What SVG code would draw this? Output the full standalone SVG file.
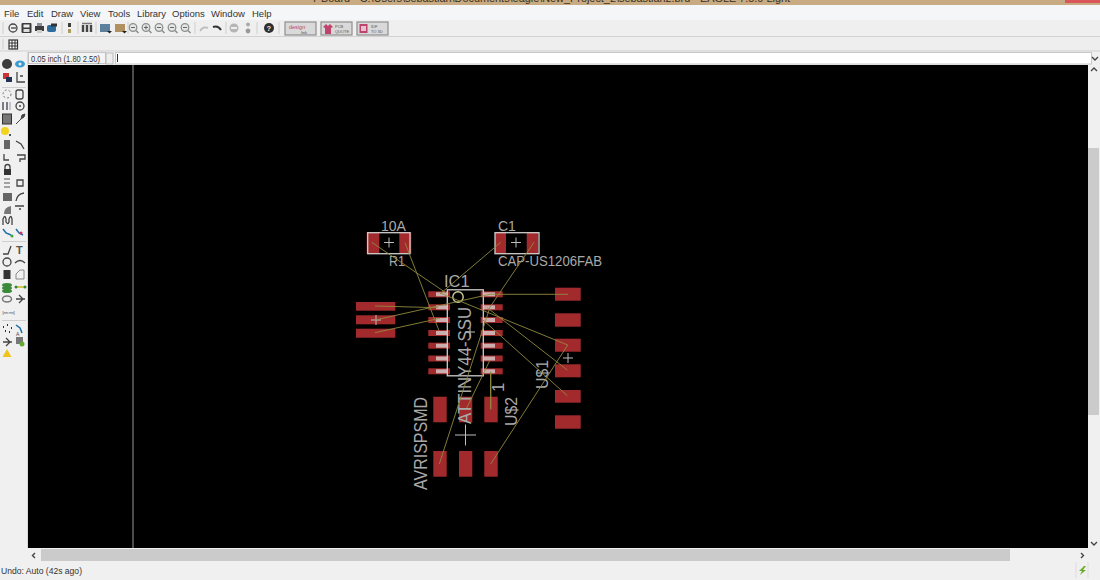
<svg xmlns="http://www.w3.org/2000/svg" width="1100" height="580" viewBox="0 0 1100 580">
<style>
text{font-family:"Liberation Sans",Arial,sans-serif}
.menu{font-size:9.5px;fill:#333}
.ui{font-size:9px;fill:#333}
.sep{stroke:#cfcfcf;stroke-width:1}
.ic{fill:#3c3c3c}
.icl{fill:#8a9099}
.icn{fill:none;stroke:#444;stroke-width:1.3}
.mag{fill:#e4e6e6;stroke:#8b908f;stroke-width:1.3}
.hdl{stroke:#8b908f;stroke-width:1.6}
.btn{fill:#d9d9d9;stroke:#8e8e8e;stroke-width:1.2}
.pink{fill:#c0436e}
.btt{font-size:4px;fill:#555}
.pad{fill:#a32a2c}
.lead{fill:#cdaeae}
.out{fill:none;stroke:#cfcccc;stroke-width:1.3}
.lbl{font-size:14px;fill:#a9a9a9}
.cross{stroke:#bdbdbd;stroke-width:1;fill:none}
.wire{stroke:#8f8a3e;stroke-width:.9;fill:none}
.arr{fill:none;stroke:#444;stroke-width:1.4}
</style>
<rect width="1100" height="580" fill="#f0f0f0"/>
<g id="titlebar">
<rect width="1100" height="5" fill="#c8ab82"/>
<rect x="1065" width="35" height="3" fill="#d9575a"/>
<text x="312" y="2" font-size="11" fill="#3a3020" textLength="478" lengthAdjust="spacingAndGlyphs">7 Board - C:\Users\sebastian\Documents\eagle\New_Project_2\sebastian2.brd - EAGLE 7.5.0 Light</text>
</g>
<g id="menubar">
<rect y="5" width="1100" height="15" fill="#f5f6f7"/>
<text class="menu" x="4" y="17">File</text><text class="menu" x="27" y="17">Edit</text><text class="menu" x="51" y="17">Draw</text><text class="menu" x="80" y="17">View</text><text class="menu" x="108" y="17">Tools</text><text class="menu" x="137" y="17">Library</text><text class="menu" x="172" y="17">Options</text><text class="menu" x="211" y="17">Window</text><text class="menu" x="252" y="17">Help</text>
</g>
<g id="toolbar">
<rect y="20" width="1100" height="17" fill="#efefef"/>
<line x1="0" y1="36.5" x2="1100" y2="36.5" stroke="#d2d2d2"/>
<circle cx="13" cy="28" r="4" class="icn"/><path d="M11 28h5" stroke="#444" stroke-width="1.300"/>
<rect x="21.500" y="23" width="10" height="10" class="ic" rx="1"/><rect x="23.500" y="24.500" width="6" height="3" fill="#eee"/><rect x="23.500" y="29" width="6" height="3" fill="#ddd"/>
<rect x="35" y="26" width="9" height="5" class="ic"/><rect x="37" y="23" width="5" height="3" class="icl"/><rect x="37" y="30" width="5" height="3" fill="#ccc"/>
<rect x="47" y="25" width="9" height="7" rx="2" fill="#2c6c9c"/><rect x="51" y="23.500" width="6" height="3" fill="#333"/>
<rect x="68" y="23" width="3" height="4" class="ic"/><rect x="68" y="29" width="3" height="4" fill="#a89a60"/>
<path d="M83 25v7M87 25v7M91 25v7" stroke="#444" stroke-width="2.400"/><path d="M82 23.500h10" stroke="#777" stroke-width="1.500"/>
<rect x="100" y="24" width="10" height="8" fill="#5d7f9e"/><path d="M107 31h5l-2.500 2.500z" fill="#222"/>
<rect x="115" y="24" width="10" height="8" fill="#b09060"/><path d="M122 31h5l-2.500 2.500z" fill="#222"/>
<circle cx="133" cy="27.500" r="3.800" class="mag"/><circle cx="146" cy="27.500" r="3.800" class="mag"/><circle cx="159" cy="27.500" r="3.800" class="mag"/><circle cx="172" cy="27.500" r="3.800" class="mag"/><circle cx="185" cy="27.500" r="3.800" class="mag"/>
<path class="hdl" d="M136 30.500l2.500 2.500M149 30.500l2.500 2.500M162 30.500l2.500 2.500M175 30.500l2.500 2.500M188 30.500l2.500 2.500"/>
<path d="M131 27.500h4M144 27.500h4M146 25.500v4M157 27.500h4M170 27.500h4M183 27.500h4" stroke="#666"/>
<path d="M200 31q3-5 8-3" fill="none" stroke="#bbb" stroke-width="1.600"/><path d="M213 27q5-2 8 3" fill="none" stroke="#333" stroke-width="2"/>
<circle cx="234" cy="28" r="4.500" fill="#b5b5b5"/><rect x="231" y="27" width="6" height="2" fill="#eee"/><circle cx="248" cy="24.500" r="2" fill="#aaa"/><circle cx="248" cy="31" r="2.400" fill="#999"/>
<circle cx="269" cy="28" r="5" fill="#2f2f2f"/><text x="266.600" y="31" font-size="7.500" font-weight="bold" fill="#eee">?</text>
<line class="sep" x1="3" y1="22" x2="3" y2="34"/><line class="sep" x1="62" y1="22" x2="62" y2="34"/><line class="sep" x1="78" y1="22" x2="78" y2="34"/><line class="sep" x1="96" y1="22" x2="96" y2="34"/><line class="sep" x1="128" y1="22" x2="128" y2="34"/><line class="sep" x1="195" y1="22" x2="195" y2="34"/><line class="sep" x1="226" y1="22" x2="226" y2="34"/><line class="sep" x1="257" y1="22" x2="257" y2="34"/><line class="sep" x1="279" y1="22" x2="279" y2="34"/>
<rect class="btn" x="285" y="22" width="31" height="13"/><rect class="btn" x="321" y="22" width="31" height="13"/><rect class="btn" x="357" y="22" width="31" height="13"/>
<text x="289" y="29" font-size="5.500" fill="#c0436e">design</text><text x="301" y="33.500" class="btt">link</text>
<path d="M323 27l3-3 2 2 2-2 3 3-2 1v6h-6v-6z" class="pink"/><text x="335" y="28" class="btt">PCB</text><text x="335" y="32.500" class="btt">QUOTE</text>
<rect x="359.500" y="24" width="8" height="9" class="pink"/><rect x="361" y="26" width="5" height="5" fill="#e8c0d0"/><text x="371" y="28" class="btt">IDF</text><text x="371" y="32.500" class="btt">TO 3D</text>
</g>
<g id="gridbar">
<rect y="37" width="1100" height="14" fill="#eeeeee"/>
<line x1="0" y1="51" x2="1100" y2="51" stroke="#d0d0d0"/>
<line class="sep" x1="3" y1="39" x2="3" y2="49"/>
<rect x="9" y="40" width="8.500" height="9" fill="#fff" stroke="#333" stroke-width="1.200"/><path d="M9 43h8.500M9 46h8.500M12 40v9M15 40v9" stroke="#333"/>
</g>
<g id="commandbar">
<rect x="28.500" y="52.500" width="77" height="11" fill="#f4f4f4" stroke="#c4c4c4"/>
<text x="31" y="61.500" font-size="8.500" fill="#333" textLength="69" lengthAdjust="spacingAndGlyphs">0.05 inch (1.80 2.50)</text>
<rect x="106" y="53" width="7" height="11" fill="#eee" stroke="#bbb"/>
<rect x="115.500" y="52.500" width="976" height="11.500" fill="#fff" stroke="#c8c8c8"/>
<line x1="117.500" y1="54" x2="117.500" y2="62" stroke="#333"/>
<path class="arr" d="M1092 57l3 3 3-3"/>
</g>
<g id="toolpalette">
<line x1="27.500" y1="52" x2="27.500" y2="548" stroke="#d8d8d8"/>
<circle cx="7" cy="64" r="5" fill="#3c3c3c"/><ellipse cx="20" cy="64" rx="5" ry="3.500" fill="#3b9bd0"/><circle cx="20" cy="64" r="1.500" fill="#eee"/>
<rect x="3" y="73" width="6" height="6" fill="#c33"/><rect x="6" y="77" width="6" height="5" fill="#235"/><path d="M17 72v10h8M20 76h3" class="icn"/>
<line class="sep" x1="2" y1="87.500" x2="26" y2="87.500"/>
<circle cx="7" cy="94" r="4" fill="none" stroke="#777" stroke-dasharray="2 2"/><rect x="16" y="90" width="7" height="9" rx="2" class="icn"/>
<path d="M3 102v8M7 102v8" stroke="#556" stroke-width="1.500"/><path d="M10 102v8" stroke="#99a"/><circle cx="20" cy="106" r="4" class="icn"/><circle cx="20" cy="106" r="1" fill="#444"/>
<rect x="2.500" y="114" width="9" height="10" fill="#777" stroke="#333"/><path d="M16 124l5-5 1-4 3-1-1 3-3 2z" fill="#444" stroke="#444"/>
<circle cx="5" cy="131" r="4" fill="#f2d320"/><circle cx="10" cy="135" r="1" fill="#222"/>
<rect x="4" y="140" width="6" height="9" fill="#666"/><path d="M16 141l5 3 3 5" class="icn"/>
<path d="M4 154v6h5" class="icn"/><path d="M17 155h8v4h-5v3" class="icn"/>
<rect x="4" y="169" width="7" height="6" fill="#333"/><path d="M5 169v-2a2.500 2.500 0 0 1 5 0v2" class="icn"/>
<path d="M4 179h6M4 183h6M4 187h6" stroke="#888" stroke-width="1.300"/><path d="M17 180h6v6h-6z" class="icn"/>
<rect x="3" y="193" width="9" height="8" fill="#666"/><path d="M16 201q1-7 8-8" class="icn"/>
<path d="M4 214q0-7 7-8v8z" fill="#777"/><path d="M15 206h9M19 209h2" class="icn"/>
<path d="M3 225v-6q2-5 3 0v3q2 3 3 0v-3q2-5 3 0v6" class="icn"/>
<path d="M3 229l3 4 5 2" fill="none" stroke="#1c6fa8" stroke-width="1.500"/><path d="M16 229l3 4 4 2" fill="none" stroke="#1c6fa8" stroke-width="1.500"/><circle cx="12" cy="236" r="1.500" fill="#3a3"/><circle cx="21" cy="233" r="1.500" fill="#c36"/>
<line class="sep" x1="2" y1="241.500" x2="26" y2="241.500"/>
<path d="M3 254h5l3-8" class="icn"/><text x="16" y="254" font-size="11" font-weight="bold" fill="#555">T</text>
<circle cx="7" cy="262" r="4" class="icn"/><path d="M15 263q5-5 10 0" class="icn"/>
<rect x="3.500" y="270" width="7" height="9" fill="#333"/><path d="M16 279v-5l4-4h4v9z" fill="none" stroke="#888"/>
<ellipse cx="7" cy="285" rx="5" ry="2" fill="#3a8a3a"/><ellipse cx="7" cy="288" rx="5" ry="2" fill="#3a8a3a"/><ellipse cx="7" cy="291" rx="5" ry="2" fill="#3a8a3a"/><line x1="16" y1="287" x2="25" y2="287" stroke="#c8b820" stroke-width="1.500"/><circle cx="16" cy="287" r="1.500" fill="#383"/><circle cx="25" cy="287" r="1.500" fill="#383"/>
<ellipse cx="7" cy="299" rx="4.500" ry="3" fill="none" stroke="#777" stroke-width="1.500"/><path d="M16 299h9M19 295l4 4-4 4" class="icn"/>
<text x="2.500" y="314" font-size="4" fill="#444">[nn:nn]</text>
<line class="sep" x1="2" y1="320.500" x2="26" y2="320.500"/>
<path d="M3 327h1M7 325h1M11 328h1M5 331h1M9 332h1" stroke="#333" stroke-width="2"/><path d="M16 325l4 3 2 5" fill="none" stroke="#1c6fa8" stroke-width="1.500"/><text x="16" y="336" font-size="5" fill="#444">A</text>
<path d="M3 342h9M6 338l4 4-4 4" class="icn"/><rect x="16" y="337" width="7" height="7" fill="#777"/><circle cx="22" cy="344" r="2.500" fill="#6a3"/>
<path d="M7 349l4.500 8h-9z" fill="#f0c420"/>
</g>
<g id="canvas">
<rect x="28" y="65" width="1060" height="483" fill="#000"/>
<line x1="133" y1="65" x2="133" y2="548" stroke="#a8a8a8" stroke-width=".9"/>
</g>
<g id="scrollbars">
<rect x="41" y="549" width="969" height="12" fill="#cbcbcb"/>
<path class="arr" d="M35 553l-2.500 2.500 2.500 2.500"/><path class="arr" d="M1081 553l2.500 2.500-2.500 2.500"/>
<rect x="1088" y="148" width="11" height="267" fill="#cbcbcb"/>
<path class="arr" d="M1091 71l3-3 3 3"/><path class="arr" d="M1091 542l3 3 3-3"/>
</g>
<g id="statusbar">
<text class="ui" x="1" y="574" textLength="81" lengthAdjust="spacingAndGlyphs">Undo: Auto (42s ago)</text>
<line x1="1076" y1="562" x2="1076" y2="578" stroke="#ddd"/><line x1="1088" y1="562" x2="1088" y2="578" stroke="#ddd"/>
<path d="M1084 566l-5 5h3l-2 4 6-5h-3l3-4z" fill="#6cab2a"/>
</g>
<g id="R1">
<rect class="pad" x="366.700" y="232" width="12.600" height="22"/><rect class="pad" x="399.300" y="232" width="12" height="22"/>
<rect class="out" x="367.700" y="232.700" width="42.300" height="21"/>
<path class="cross" d="M384 242.500h10M389 237.500v10"/>
<text class="lbl" x="381" y="231">10A</text><text class="lbl" x="389" y="266" textLength="16" lengthAdjust="spacingAndGlyphs">R1</text>
</g>
<g id="C1">
<rect class="pad" x="495" y="232" width="11" height="22"/><rect class="pad" x="526.700" y="232" width="11.500" height="22"/>
<rect class="out" x="495" y="232.700" width="44" height="21"/>
<path class="cross" d="M511 242.500h10M516 237.500v10"/>
<text class="lbl" x="498" y="231">C1</text><text class="lbl" x="498" y="266" textLength="104" lengthAdjust="spacingAndGlyphs">CAP-US1206FAB</text>
</g>
<g id="AVRISPSMD">
<rect class="pad" x="356" y="302" width="39.300" height="8.700"/><rect class="pad" x="356" y="315.300" width="39.300" height="9"/><rect class="pad" x="356" y="328.700" width="39.300" height="9"/>
<path class="cross" d="M371 320h10M376 315v10"/>
</g>
<g id="U_1">
<rect class="pad" x="555" y="287.700" width="25.700" height="13"/><rect class="pad" x="555" y="313.300" width="25.700" height="13.400"/><rect class="pad" x="555" y="338.700" width="25.700" height="13"/><rect class="pad" x="555" y="364.300" width="25.700" height="13"/><rect class="pad" x="555" y="390" width="25.700" height="12.700"/><rect class="pad" x="555" y="415.300" width="25.700" height="13.400"/>
<path class="cross" d="M563 358h10M568 353v10"/>
<text class="lbl" transform="translate(548 389) rotate(-90)" style="font-size:17px" textLength="29" lengthAdjust="spacingAndGlyphs">U$1</text>
</g>
<g id="U_2">
<rect class="pad" x="433.300" y="396.700" width="13.400" height="25.600"/><rect class="pad" x="459" y="396.700" width="13.300" height="25.600"/><rect class="pad" x="484.300" y="396.700" width="13.400" height="25.600"/>
<rect class="pad" x="433.300" y="451" width="13.400" height="25.700"/><rect class="pad" x="459" y="451" width="13.300" height="25.700"/><rect class="pad" x="484.300" y="451" width="13.400" height="25.700"/>
<path class="cross" d="M455 435h21M465.500 424.500v21"/>
<text class="lbl" transform="translate(517 426) rotate(-90)" style="font-size:17px" textLength="29" lengthAdjust="spacingAndGlyphs">U$2</text>
<text class="lbl" transform="translate(504 392) rotate(-90)" style="font-size:17px">1</text>
<text class="lbl" transform="translate(427 490) rotate(-90)" style="font-size:18px" textLength="93" lengthAdjust="spacingAndGlyphs">AVRISPSMD</text>
</g>
<g id="IC1">
<g class="pad">
<rect x="428.300" y="291.300" width="21.700" height="6"/><rect x="428.300" y="304.300" width="21.700" height="6"/><rect x="428.300" y="317" width="21.700" height="6"/><rect x="428.300" y="330" width="21.700" height="6"/><rect x="428.300" y="342.700" width="21.700" height="6"/><rect x="428.300" y="355.500" width="21.700" height="6"/><rect x="428.300" y="368.300" width="21.700" height="6"/>
<rect x="480.700" y="291.300" width="22" height="6"/><rect x="480.700" y="304.300" width="22" height="6"/><rect x="480.700" y="317" width="22" height="6"/><rect x="480.700" y="330" width="22" height="6"/><rect x="480.700" y="342.700" width="22" height="6"/><rect x="480.700" y="355.500" width="22" height="6"/><rect x="480.700" y="368.300" width="22" height="6"/>
</g>
<g class="lead">
<rect x="436" y="292.300" width="11" height="4"/><rect x="436" y="305.300" width="11" height="4"/><rect x="436" y="318" width="11" height="4"/><rect x="436" y="331" width="11" height="4"/><rect x="436" y="343.700" width="11" height="4"/><rect x="436" y="356.500" width="11" height="4"/><rect x="436" y="369.300" width="11" height="4"/>
<rect x="484" y="292.300" width="11" height="4"/><rect x="484" y="305.300" width="11" height="4"/><rect x="484" y="318" width="11" height="4"/><rect x="484" y="331" width="11" height="4"/><rect x="484" y="343.700" width="11" height="4"/><rect x="484" y="356.500" width="11" height="4"/><rect x="484" y="369.300" width="11" height="4"/>
</g>
<rect class="out" x="447.300" y="289.800" width="36" height="86"/>
<circle cx="458" cy="297" r="5.200" fill="none" stroke="#cfcf9c" stroke-width="1.400"/>
<path class="cross" d="M465 332h10M470 327v10"/>
<text class="lbl" x="444" y="287" style="font-size:16.500px">IC1</text>
<text class="lbl" transform="translate(471 424) rotate(-90)" style="font-size:18px" textLength="117" lengthAdjust="spacingAndGlyphs">ATTINY44-SSU</text>
</g>
<g id="connectors">
<path class="wire" d="M371.700 242.300L446.700 293.300"/>
<path class="wire" d="M405 242.700L439 330.700"/>
<path class="wire" d="M500.700 242.300L440 294"/>
<path class="wire" d="M534 242.300L490 307"/>
<path class="wire" d="M490 307L439.300 464"/>
<path class="wire" d="M375 306L438 307.700"/>
<path class="wire" d="M375 320L490 294.300L568 294.300"/>
<path class="wire" d="M375 332.700L440 318.300"/>
<path class="wire" d="M440 293L567.700 345L490.700 464"/>
<path class="wire" d="M486.700 307.300L567.300 370"/>
<path class="wire" d="M483 320L567.300 395.700"/>
<path class="wire" d="M490.700 371.700V409.300" style="stroke-width:1.300"/>
<path class="wire" d="M490 360L466.700 408"/>
</g>
</svg>
